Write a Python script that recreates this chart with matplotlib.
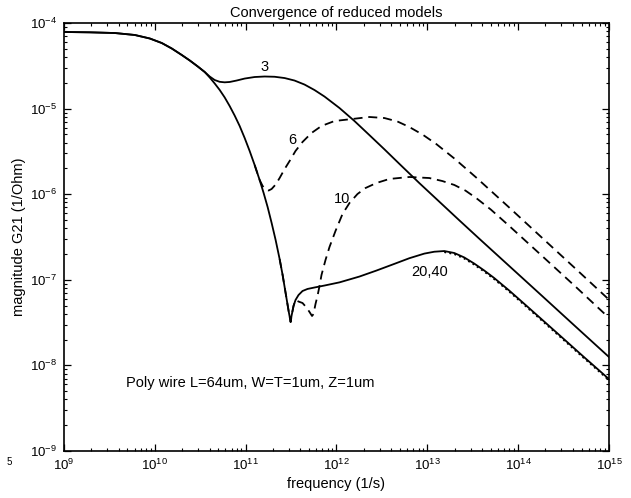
import matplotlib
matplotlib.use("Agg")
import matplotlib.pyplot as plt
import numpy as np
from matplotlib.ticker import LogLocator, NullFormatter

plt.rcParams["font.family"] = ["Liberation Sans", "DejaVu Sans"]
plt.rcParams["mathtext.default"] = "regular"

# log10(frequency) / log10(|G21|) samples for each reduced model
logf_full = [9.000, 9.286, 9.560, 9.780, 9.945, 10.077, 10.187, 10.297, 10.385,
             10.473, 10.549, 10.604, 10.659, 10.714, 10.769, 10.824, 10.879, 10.934,
             10.989, 11.044, 11.099, 11.154, 11.198, 11.242, 11.286, 11.330, 11.374,
             11.407, 11.440, 11.473, 11.495, 11.505, 11.527, 11.549, 11.582, 11.626,
             11.681, 11.758, 11.868, 12.033, 12.253, 12.440, 12.637, 12.802, 12.967,
             13.077, 13.187, 13.297, 13.407, 13.516, 13.626, 13.736, 13.901, 14.088,
             14.286, 14.451, 14.725, 15.000]
logg_full = [-4.105, -4.109, -4.117, -4.140, -4.181, -4.234, -4.298, -4.374, -4.438,
             -4.508, -4.572, -4.636, -4.706, -4.782, -4.869, -4.970, -5.081, -5.203,
             -5.343, -5.495, -5.659, -5.834, -5.986, -6.150, -6.336, -6.535, -6.757,
             -6.944, -7.154, -7.364, -7.493, -7.423, -7.306, -7.236, -7.178, -7.131,
             -7.107, -7.090, -7.067, -7.030, -6.962, -6.892, -6.814, -6.748, -6.694,
             -6.672, -6.664, -6.687, -6.739, -6.810, -6.891, -6.979, -7.125, -7.300,
             -7.487, -7.643, -7.903, -8.160]

logf_40 = [13.187, 13.297, 13.407, 13.516, 13.626, 13.736, 13.901, 14.088, 14.286,
           14.451, 14.725, 15.000]
logg_40 = [-6.676, -6.699, -6.751, -6.822, -6.903, -6.991, -7.137, -7.312, -7.499,
           -7.655, -7.915, -8.172]

logf_3 = [9.000, 9.286, 9.560, 9.780, 9.945, 10.077, 10.187, 10.297, 10.385, 10.473,
          10.549, 10.604, 10.659, 10.714, 10.769, 10.824, 10.901, 10.989, 11.099,
          11.209, 11.319, 11.429, 11.538, 11.648, 11.758, 11.868, 12.033, 12.198,
          12.363, 12.527, 12.692, 12.912, 13.165, 13.352, 13.571, 13.901, 14.264,
          14.637, 15.000]
logg_3 = [-4.105, -4.109, -4.117, -4.140, -4.181, -4.234, -4.298, -4.374, -4.438,
          -4.508, -4.572, -4.625, -4.666, -4.687, -4.693, -4.689, -4.672, -4.649,
          -4.631, -4.625, -4.628, -4.643, -4.672, -4.719, -4.783, -4.859, -4.993,
          -5.145, -5.310, -5.475, -5.645, -5.870, -6.120, -6.305, -6.519, -6.838,
          -7.189, -7.551, -7.902]

logf_6 = [11.099, 11.154, 11.187, 11.220, 11.253, 11.286, 11.330, 11.374, 11.429,
          11.484, 11.549, 11.626, 11.725, 11.835, 11.978, 12.176, 12.363, 12.527,
          12.670, 12.802, 12.950, 13.100, 13.300, 13.538, 13.901, 14.264, 14.637,
          15.000]
logg_6 = [-5.659, -5.834, -5.904, -5.945, -5.957, -5.939, -5.887, -5.811, -5.706,
          -5.612, -5.495, -5.390, -5.285, -5.203, -5.145, -5.121, -5.098, -5.110,
          -5.150, -5.215, -5.305, -5.415, -5.585, -5.805, -6.155, -6.510, -6.875,
          -7.232]

logf_10 = [11.374, 11.407, 11.440, 11.473, 11.495, 11.505, 11.527, 11.549, 11.582,
           11.626, 11.670, 11.703, 11.731, 11.747, 11.769, 11.791, 11.813, 11.835,
           11.879, 11.923, 11.989, 12.066, 12.143, 12.231, 12.319, 12.440, 12.582,
           12.802, 13.022, 13.165, 13.297, 13.420, 13.538, 13.700, 13.901, 14.264,
           14.637, 15.000]
logg_10 = [-6.757, -6.944, -7.154, -7.364, -7.493, -7.423, -7.306, -7.236, -7.254,
           -7.271, -7.324, -7.376, -7.423, -7.400, -7.283, -7.189, -7.073, -6.944,
           -6.769, -6.617, -6.430, -6.232, -6.103, -5.998, -5.928, -5.869, -5.822,
           -5.799, -5.811, -5.846, -5.892, -5.958, -6.045, -6.180, -6.370, -6.722,
           -7.085, -7.445]


def pw(v):
    return 10.0 ** np.asarray(v)


fig = plt.figure(figsize=(6.31, 4.98), dpi=100)
ax = fig.add_axes([0.1014, 0.0944, 0.8637, 0.8594])

lw = 1.3
dash = (5.0, 3.2)
ax.plot(pw(logf_40), pw(logg_40), color="black", linestyle=":", linewidth=1.4)
ax.plot(pw(logf_full), pw(logg_full), color="black", linewidth=lw)
ax.plot(pw(logf_3), pw(logg_3), color="black", linewidth=lw)
ax.plot(pw(logf_6), pw(logg_6), color="black", linewidth=lw, dashes=dash)
ax.plot(pw(logf_10), pw(logg_10), color="black", linewidth=lw, dashes=dash)

ax.set_xscale("log")
ax.set_yscale("log")
ax.set_xlim(1e9, 1e15)
ax.set_ylim(1e-9, 1e-4)

ax.xaxis.set_major_locator(LogLocator(base=10, numticks=10))
ax.yaxis.set_major_locator(LogLocator(base=10, numticks=10))
ax.xaxis.set_minor_locator(LogLocator(base=10, subs=np.arange(2, 10), numticks=20))
ax.yaxis.set_minor_locator(LogLocator(base=10, subs=np.arange(2, 10), numticks=20))
ax.xaxis.set_minor_formatter(NullFormatter())
ax.yaxis.set_minor_formatter(NullFormatter())
ax.tick_params(which="both", direction="in", top=True, right=True, labelsize=9.5)
ax.tick_params(which="major", length=5, width=0.9, pad=5)
ax.tick_params(which="minor", length=2.5, width=0.8)
for sp in ax.spines.values():
    sp.set_linewidth(1.2)

ax.set_title("Convergence of reduced models", fontsize=10.5, pad=4)
ax.set_xlabel("frequency (1/s)", fontsize=10.5, labelpad=3)
ax.set_ylabel("magnitude G21 (1/Ohm)", fontsize=10.5, labelpad=3)

# curve labels
ax.text(10 ** 11.209, 10 ** -4.514, "3", fontsize=10.5, ha="center", va="center")
ax.text(10 ** 11.516, 10 ** -5.367, "6", fontsize=10.5, ha="center", va="center")
ax.text(10 ** 12.06, 10 ** -6.056, "10", fontsize=10.5, ha="center", va="center")
ax.text(10 ** 13.022, 10 ** -6.909, "20,40", fontsize=10.5, ha="center", va="center")
ax.text(10 ** 9.68, 10 ** -8.2, "Poly wire L=64um, W=T=1um, Z=1um", fontsize=10.5,
        ha="left", va="center")

fig.text(0.01, 1 - 462 / 498, "5", fontsize=7, ha="left", va="center")

fig.savefig("out.png", dpi=100)
